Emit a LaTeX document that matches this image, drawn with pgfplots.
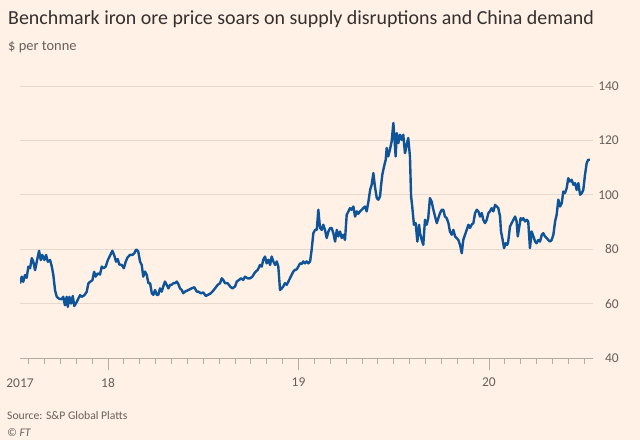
\documentclass[border=0pt]{standalone}
\usepackage{pgfplots}
\pgfplotsset{compat=1.18}
\usepackage{fontspec}
\setmainfont{Carlito}
\definecolor{ftbg}{HTML}{FFF1E5}
\definecolor{ftgrid}{HTML}{E6D9CE}
\definecolor{ftaxis}{HTML}{B7ACA2}
\definecolor{fttext}{HTML}{66605C}
\definecolor{fttitle}{HTML}{33302E}
\definecolor{ftblue}{HTML}{0F5499}
\begin{document}
\begin{tikzpicture}
\fill[ftbg] (0,0) rectangle (640bp,440bp);
\node[anchor=base west, font=\fontsize{20}{24}\selectfont, text=fttitle, inner sep=0] at (8bp,415bp) {Benchmark iron ore price soars on supply disruptions and China demand};
\node[anchor=base west, font=\fontsize{14.5}{17}\selectfont, text=fttext, inner sep=0] at (8bp,389bp) {\$ per tonne};
\node[anchor=base west, font=\fontsize{11.7}{14}\selectfont, text=fttext, inner sep=0] at (7bp,21bp) {Source: S\&P Global Platts};
\node[anchor=base west, font=\fontsize{11.7}{14}\selectfont\itshape, text=fttext, inner sep=0] at (7bp,4bp) {\textcopyright{} FT};
\begin{axis}[
  at={(20bp,82bp)}, anchor=south west,
  width=573bp, height=272bp, scale only axis,
  xmin=2017.538, xmax=2020.546, ymin=40, ymax=140,
  axis x line*=bottom, axis y line*=right,
  x axis line style={draw=ftaxis, line width=0.9bp, -},
  y axis line style={draw=none},
  ytick={40,60,80,100,120,140},
  ymajorgrids, grid style={draw=ftgrid, line width=0.9bp},
  ytick style={draw=none},
  major tick length=12bp, minor tick length=6bp,
  yticklabel style={anchor=east, inner sep=0pt, xshift=26bp, font=\fontsize{13.5}{16}\selectfont, text=fttext},
  /pgf/number format/assume math mode=true,
  xtick={2018,2019,2020}, xticklabels={18,19,20},
  xtick align=outside,
  xtick style={draw=ftaxis, line width=0.9bp},
  minor x tick style={draw=ftaxis, line width=0.9bp},
  minor xtick={2017.5833,2017.6667,2017.75,2017.8333,2017.9167,
    2018.0833,2018.1667,2018.25,2018.3333,2018.4167,2018.5,2018.5833,2018.6667,2018.75,2018.8333,2018.9167,
    2019.0833,2019.1667,2019.25,2019.3333,2019.4167,2019.5,2019.5833,2019.6667,2019.75,2019.8333,2019.9167,
    2020.0833,2020.1667,2020.25,2020.3333,2020.4167,2020.5},
  xticklabel style={anchor=north, inner sep=0pt, yshift=-8bp, font=\fontsize{13.5}{16}\selectfont, text=fttext},
  extra x ticks={2017.538}, extra x tick labels={2017},
  extra x tick style={major tick length=0pt, xticklabel style={yshift=-13bp}},
]
\addplot[ftblue, line width=2.4bp, line join=round] coordinates {
(2017.538,67.4)(2017.547,69.9)(2017.555,68.0)(2017.564,70.5)(2017.573,69.5)(2017.582,73.6)(2017.591,73.0)(2017.600,76.7)
(2017.608,75.4)(2017.617,72.3)(2017.626,75.4)(2017.638,79.4)(2017.647,76.0)(2017.655,77.9)(2017.666,76.0)(2017.675,77.9)
(2017.684,75.4)(2017.696,76.0)(2017.705,73.6)(2017.713,70.5)(2017.722,64.9)(2017.731,62.5)(2017.743,61.8)(2017.757,61.6)
(2017.765,62.5)(2017.774,59.4)(2017.783,62.5)(2017.789,58.8)(2017.797,62.5)(2017.806,60.0)(2017.815,62.8)(2017.823,59.1)
(2017.836,60.6)(2017.844,61.8)(2017.853,63.1)(2017.862,62.5)(2017.876,63.1)(2017.888,64.3)(2017.897,67.4)(2017.906,68.0)
(2017.918,68.6)(2017.927,71.7)(2017.935,69.9)(2017.946,71.1)(2017.958,70.7)(2017.967,73.6)(2017.976,73.0)(2017.988,73.6)
(2017.999,76.0)(2018.011,77.7)(2018.023,79.4)(2018.033,77.7)(2018.042,75.4)(2018.051,76.4)(2018.059,74.4)(2018.072,74.2)
(2018.083,73.0)(2018.093,75.4)(2018.102,76.9)(2018.115,77.9)(2018.128,77.9)(2018.138,78.5)(2018.147,79.8)(2018.151,79.8)
(2018.159,79.1)(2018.168,75.5)(2018.177,74.2)(2018.185,69.9)(2018.194,71.8)(2018.203,70.6)(2018.212,67.5)(2018.221,67.5)
(2018.230,63.8)(2018.238,63.2)(2018.247,65.0)(2018.256,63.2)(2018.264,63.2)(2018.273,65.6)(2018.282,64.4)(2018.290,66.3)
(2018.299,68.1)(2018.308,66.9)(2018.317,65.6)(2018.326,66.9)(2018.334,66.9)(2018.343,67.5)(2018.352,67.5)(2018.361,68.1)
(2018.369,67.2)(2018.378,65.6)(2018.387,65.0)(2018.395,63.8)(2018.404,64.4)(2018.422,65.0)(2018.439,65.6)(2018.453,66.0)
(2018.466,64.4)(2018.474,64.4)(2018.488,63.8)(2018.500,64.1)(2018.513,62.8)(2018.524,63.2)(2018.536,63.6)(2018.548,64.4)
(2018.562,65.6)(2018.576,66.9)(2018.588,67.5)(2018.597,69.3)(2018.605,68.7)(2018.614,67.5)(2018.628,67.5)(2018.641,66.3)
(2018.653,65.6)(2018.667,66.3)(2018.676,68.1)(2018.688,68.7)(2018.698,69.3)(2018.710,68.7)(2018.719,69.9)(2018.733,69.3)
(2018.746,69.3)(2018.758,69.9)(2018.768,71.1)(2018.776,71.8)(2018.786,72.4)(2018.798,74.2)(2018.807,73.6)(2018.815,76.1)
(2018.824,77.3)(2018.833,74.8)(2018.842,76.1)(2018.851,74.2)(2018.859,77.3)(2018.868,75.5)(2018.877,74.2)(2018.886,75.5)
(2018.894,73.6)(2018.903,65.0)(2018.912,65.6)(2018.920,66.3)(2018.929,67.5)(2018.938,66.9)(2018.947,68.1)(2018.955,69.3)
(2018.964,70.6)(2018.973,71.8)(2018.982,72.4)(2018.991,72.6)(2018.999,73.6)(2019.008,74.8)(2019.017,74.6)(2019.025,75.5)
(2019.034,74.8)(2019.043,75.5)(2019.052,74.8)(2019.061,75.5)(2019.069,79.8)(2019.078,85.9)(2019.087,87.1)(2019.096,87.1)
(2019.104,94.5)(2019.113,87.8)(2019.122,87.1)(2019.130,89.0)(2019.139,87.1)(2019.148,84.1)(2019.157,86.5)(2019.166,87.8)
(2019.174,87.8)(2019.183,85.9)(2019.192,82.8)(2019.201,87.1)(2019.209,84.7)(2019.218,86.5)(2019.227,84.1)(2019.235,85.3)
(2019.244,83.4)(2019.253,92.6)(2019.262,93.9)(2019.270,95.1)(2019.279,94.5)(2019.288,95.7)(2019.297,92.0)(2019.306,93.9)
(2019.314,93.0)(2019.323,93.9)(2019.332,94.5)(2019.340,95.1)(2019.349,95.7)(2019.358,93.9)(2019.367,97.5)(2019.376,101.8)
(2019.384,103.7)(2019.393,108.0)(2019.401,103.1)(2019.411,98.8)(2019.419,98.2)(2019.428,99.4)(2019.433,103.1)(2019.440,107.4)
(2019.449,110.4)(2019.458,112.9)(2019.463,117.2)(2019.471,114.1)(2019.480,116.6)(2019.489,119.6)(2019.498,126.4)(2019.503,121.5)
(2019.510,114.1)(2019.516,122.7)(2019.524,119.0)(2019.533,122.1)(2019.542,120.2)(2019.550,122.1)(2019.559,115.3)(2019.568,118.4)
(2019.576,120.9)(2019.585,114.1)(2019.591,99.4)(2019.597,95.7)(2019.606,89.0)(2019.615,89.6)(2019.624,82.8)(2019.633,89.0)
(2019.638,85.9)(2019.647,83.4)(2019.655,81.6)(2019.664,90.8)(2019.673,89.0)(2019.681,91.4)(2019.690,98.8)(2019.699,97.5)
(2019.708,94.5)(2019.717,92.0)(2019.726,89.6)(2019.734,91.4)(2019.743,93.3)(2019.752,94.5)(2019.760,94.5)(2019.769,92.0)
(2019.778,91.4)(2019.787,89.6)(2019.795,86.5)(2019.804,85.3)(2019.813,87.1)(2019.822,84.7)(2019.830,84.1)(2019.839,83.4)
(2019.848,81.6)(2019.857,78.5)(2019.865,83.4)(2019.874,85.3)(2019.883,87.1)(2019.892,89.0)(2019.900,87.8)(2019.909,89.0)
(2019.918,89.6)(2019.927,93.3)(2019.936,94.5)(2019.944,93.9)(2019.953,92.0)(2019.962,93.3)(2019.970,90.8)(2019.979,89.6)
(2019.988,90.8)(2019.997,93.3)(2020.005,93.9)(2020.014,95.1)(2020.023,93.9)(2020.032,96.3)(2020.041,95.7)(2020.049,95.1)
(2020.058,92.0)(2020.063,86.5)(2020.070,84.1)(2020.079,80.4)(2020.088,82.2)(2020.096,81.6)(2020.101,82.8)(2020.110,88.3)
(2020.119,89.6)(2020.128,90.8)(2020.137,92.0)(2020.145,90.2)(2020.151,84.7)(2020.158,87.8)(2020.166,91.4)(2020.172,90.8)
(2020.180,91.4)(2020.189,90.2)(2020.198,90.8)(2020.206,90.2)(2020.215,80.4)(2020.224,86.5)(2020.233,84.7)(2020.242,82.8)
(2020.250,82.2)(2020.259,83.4)(2020.268,82.8)(2020.277,85.3)(2020.285,85.9)(2020.294,84.7)(2020.303,84.1)(2020.311,83.4)
(2020.320,82.8)(2020.329,83.4)(2020.338,85.3)(2020.347,90.2)(2020.355,92.6)(2020.364,98.2)(2020.373,95.7)(2020.382,96.9)
(2020.390,101.2)(2020.399,100.6)(2020.408,102.5)(2020.416,106.1)(2020.425,104.9)(2020.434,105.5)(2020.443,103.7)(2020.452,104.3)
(2020.460,101.8)(2020.469,104.3)(2020.478,100.0)(2020.487,100.6)(2020.495,101.8)(2020.504,107.4)(2020.513,111.7)(2020.521,112.9)
(2020.530,112.9)
};
\end{axis}
\end{tikzpicture}
\end{document}
